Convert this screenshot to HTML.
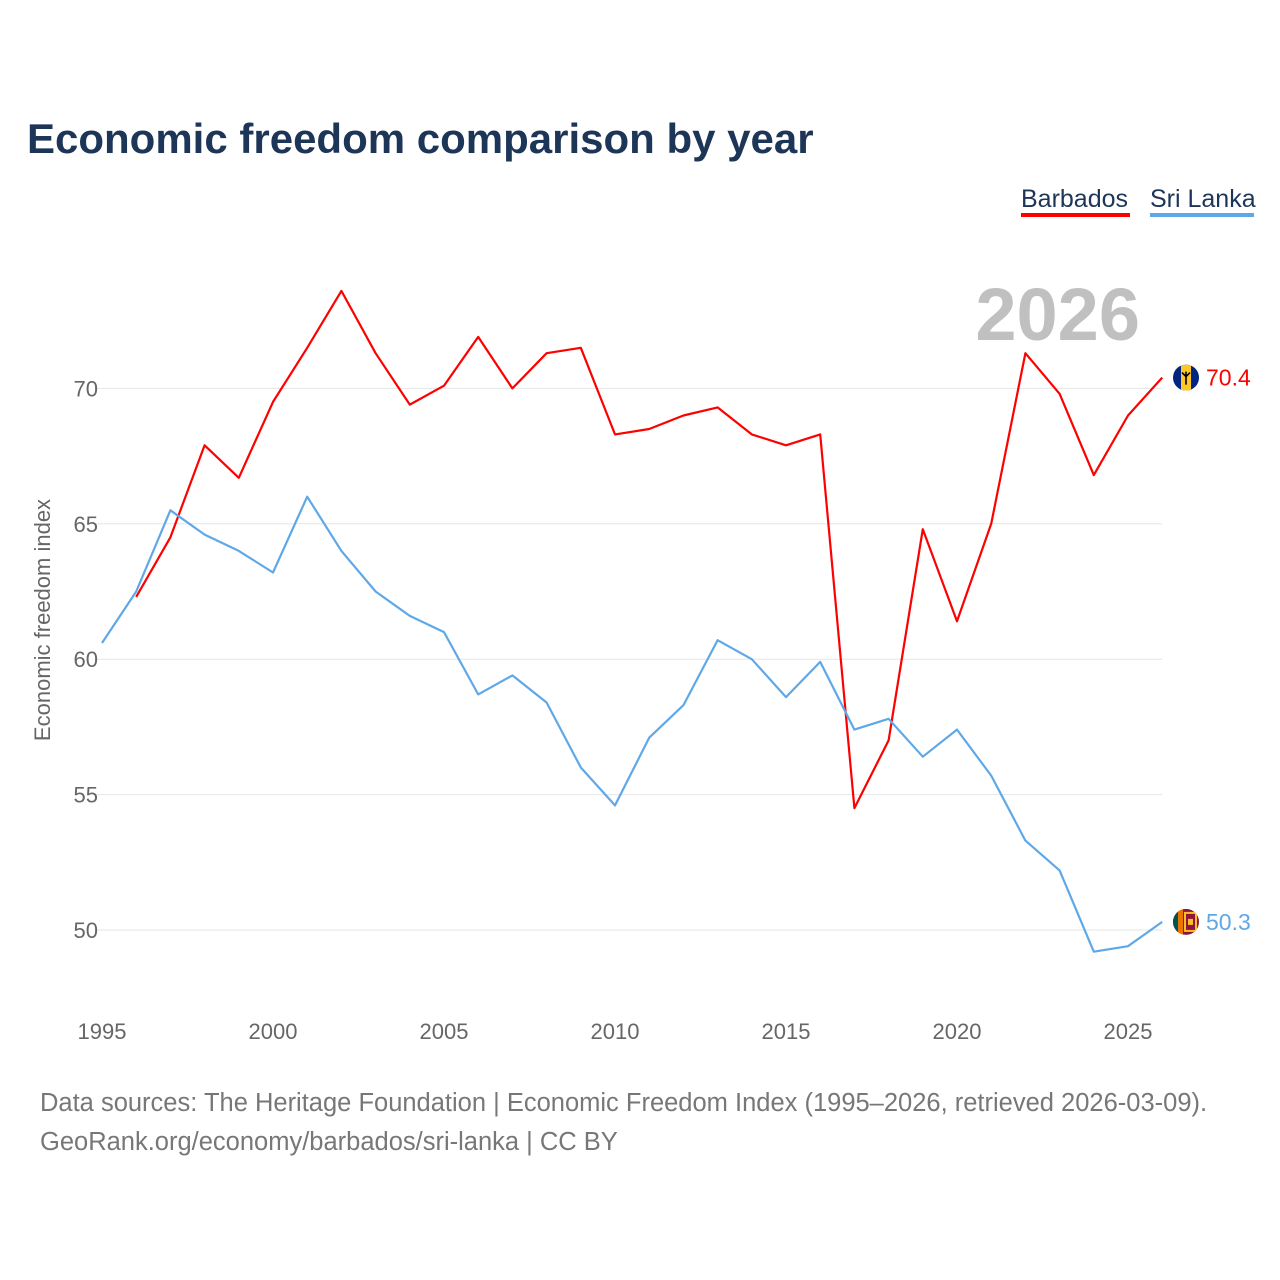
<!DOCTYPE html>
<html><head><meta charset="utf-8">
<style>
html,body{margin:0;padding:0;background:#fff;width:1280px;height:1280px;overflow:hidden;font-family:"Liberation Sans",sans-serif;}
svg text{font-family:"Liberation Sans",sans-serif;}
</style></head>
<body>
<svg id="chart" width="1280" height="1280" viewBox="0 0 1280 1280">
<defs>
<clipPath id="cb"><circle cx="1186" cy="377" r="13"/></clipPath>
<clipPath id="cs"><circle cx="1186" cy="920" r="13"/></clipPath>
</defs>
<text x="27" y="153" font-size="42" font-weight="bold" fill="#1d3557">Economic freedom comparison by year</text>
<g>
<text x="1021" y="207" font-size="25" fill="#1d3557">Barbados</text>
<rect x="1021" y="213" width="109" height="4" fill="#ff0000"/>
<text x="1150" y="207" font-size="25" fill="#1d3557">Sri Lanka</text>
<rect x="1150" y="213" width="104" height="4" fill="#5fa8e8"/>
</g>
<text x="1140" y="340" font-size="74" font-weight="bold" fill="#c0c0c0" text-anchor="end">2026</text>
<g id="grid"></g>
<g id="xaxis"></g>
<text transform="translate(50,620) rotate(-90)" font-size="22" fill="#666" text-anchor="middle">Economic freedom index</text>
<g id="series"></g>
<text x="40" y="1111" font-size="25.5" fill="#777">Data sources: The Heritage Foundation | Economic Freedom Index (1995–2026, retrieved 2026-03-09).</text>
<text x="40" y="1150" font-size="25.5" fill="#777">GeoRank.org/economy/barbados/sri-lanka | CC BY</text>
</svg>
<script>
const years = [1995,1996,1997,1998,1999,2000,2001,2002,2003,2004,2005,2006,2007,2008,2009,2010,2011,2012,2013,2014,2015,2016,2017,2018,2019,2020,2021,2022,2023,2024,2025,2026];
const barbados = [null,62.3,64.5,67.9,66.7,69.5,71.5,73.6,71.3,69.4,70.1,71.9,70.0,71.3,71.5,68.3,68.5,69.0,69.3,68.3,67.9,68.3,54.5,57.0,64.8,61.4,65.0,71.3,69.8,66.8,69.0,70.4];
const sriLanka = [60.6,62.5,65.5,64.6,64.0,63.2,66.0,64.0,62.5,61.6,61.0,58.7,59.4,58.4,56.0,54.6,57.1,58.3,60.7,60.0,58.6,59.9,57.4,57.8,56.4,57.4,55.7,53.3,52.2,49.2,49.4,50.3];
const yTicks = [50,55,60,65,70];
const xTicks = [1995,2000,2005,2010,2015,2020,2025];

const NS="http://www.w3.org/2000/svg";
const xs = y => 102 + (y-1995)*34.2;
const ys = v => 930 - (v-50)*27.08;
function mk(tag, attrs, parent){const e=document.createElementNS(NS,tag);for(const k in attrs)e.setAttribute(k,attrs[k]);parent.appendChild(e);return e;}
const grid=document.getElementById('grid'), xaxis=document.getElementById('xaxis'), series=document.getElementById('series');
yTicks.forEach(t=>{
  const l=mk('line',{x1:95,x2:1162,y1:ys(t),y2:ys(t),stroke:'#e6e6e6','stroke-width':1},grid);
  
  
  const tx=mk('text',{x:98,y:ys(t)+8,'font-size':22,fill:'#666','text-anchor':'end'},grid);
  tx.textContent=t;
  
  
});
xTicks.forEach(t=>{
  const tx=mk('text',{x:xs(t),y:1039,'font-size':22,fill:'#666','text-anchor':'middle'},xaxis);
  tx.textContent=t;
  
  
});
function drawLine(vals,color,name,flag){
  let d='';
  vals.forEach((v,i)=>{if(v==null)return;d+=(d?'L':'M')+xs(years[i]).toFixed(1)+','+ys(v).toFixed(1);});
  const p=mk('path',{d:d,fill:'none',stroke:color,'stroke-width':2.2,'stroke-linejoin':'round'},series);
  
  
  const last=vals[vals.length-1], ly=ys(last);
  const g=mk('g',{},series);
  
  
  const cp='url(#'+flag+')';
  const gg=mk('g',{'clip-path':cp,transform:'translate(0,'+(ly-(flag==='cb'?377:920)).toFixed(1)+')'},g);
  const cy=flag==='cb'?377:920;
  if(flag==='cb'){
    mk('rect',{x:1173,y:cy-13,width:26,height:26,fill:'#00267f'},gg);
    mk('rect',{x:1181,y:cy-13,width:10,height:26,fill:'#ffc726'},gg);
    mk('path',{d:'M1182,'+(cy-5)+' L1186,'+(cy-1)+' L1190,'+(cy-5)+' M1186,'+(cy-6)+' L1186,'+(cy+7),stroke:'#000','stroke-width':1.6,fill:'none'},gg);
  } else {
    mk('rect',{x:1173,y:cy-13,width:26,height:26,fill:'#8d153a'},gg);
    mk('rect',{x:1173,y:cy-13,width:5,height:26,fill:'#00534e'},gg);
    mk('rect',{x:1178,y:cy-13,width:5,height:26,fill:'#eb7400'},gg);
    mk('rect',{x:1185,y:cy-9,width:11,height:18,fill:'none',stroke:'#ffbe29','stroke-width':2},gg);
    mk('rect',{x:1188,y:cy-3,width:5,height:6,fill:'#ffbe29'},gg);
  }
  const tx=mk('text',{x:1206,y:ly+8,'font-size':23,fill:color},series);
  tx.textContent=last.toFixed(1);
  
  
}
drawLine(barbados,'#ff0000','barbados','cb');
drawLine(sriLanka,'#5fa8e8','sri-lanka','cs');
</script>
</body></html>
